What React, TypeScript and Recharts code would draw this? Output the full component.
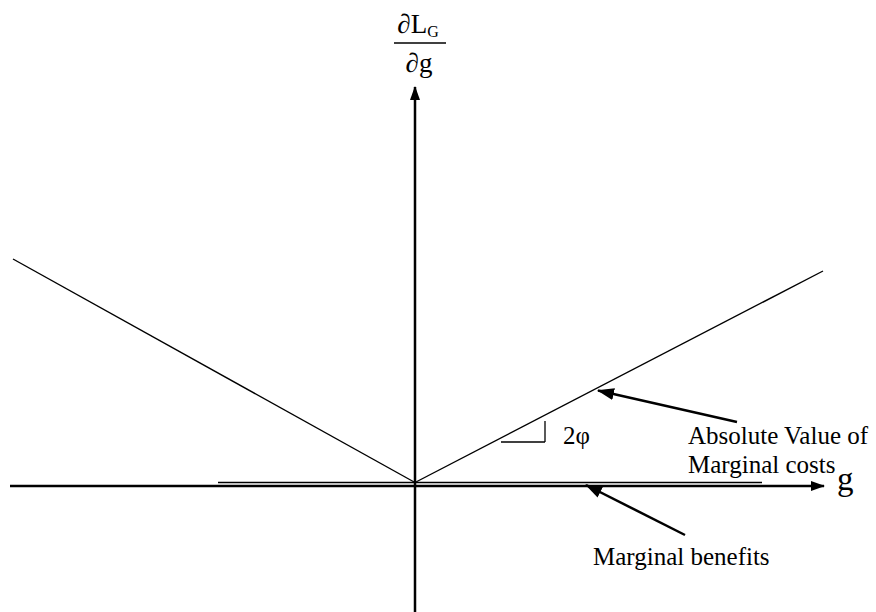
import { LineChart, XAxis, YAxis, ReferenceDot, ReferenceLine } from 'recharts';

// coordinates are in "diagram units": origin where the two cost lines meet
const costsLeft = [
  { x: -402, y: 223.5 },
  { x: 0, y: 0 },
];
const costsRight = [
  { x: 0, y: 0 },
  { x: 408, y: 211.5 },
];
const benefits = [
  { x: -197, y: 0 },
  { x: 347, y: 0 },
];
const gAxis = [
  { x: -405, y: -3.5 },
  { x: 409, y: -3.5 },
];
const dAxis = [
  { x: 0, y: -130 },
  { x: 0, y: 395.5 },
];
const costsPointer = [
  { x: 322, y: 60.5 },
  { x: 183, y: 92 },
];
const benefitsPointer = [
  { x: 270, y: -52.5 },
  { x: 171, y: -2.5 },
];
const slopeMark = [
  { x: 86, y: 40.5 },
  { x: 130, y: 40.5 },
  { x: 130, y: 61.5 },
];

const labels = [
  { x: 148, y: 38.5, text: '2φ', size: 25 },
  { x: 273, y: 38.5, text: 'Absolute Value of', size: 25 },
  { x: 273, y: 9.5, text: 'Marginal costs', size: 25 },
  { x: 178, y: -82.5, text: 'Marginal benefits', size: 25 },
  { x: 422, y: -7.5, text: 'g', size: 33 },
];

const X_DOMAIN = [-415, 461];
const Y_DOMAIN = [-129.5, 482.5];
const FONT = '"Liberation Serif", "Times New Roman", serif';

type Pt = { x: number; y: number };

// one ReferenceLine per pair of consecutive points
function path(points: Pt[], key: string, width: number, marker?: string) {
  return points.slice(1).map((p, i) => (
    <ReferenceLine
      key={`${key}-${i}`}
      segment={[points[i], p]}
      stroke="#000"
      strokeWidth={width}
      ifOverflow="visible"
      markerEnd={marker && i === points.length - 2 ? `url(#${marker})` : undefined}
    />
  ));
}

function Fraction({ cx, cy }: any) {
  return (
    <g fill="#000" style={{ fontFamily: FONT }}>
      <text x={cx - 2} y={cy - 10} textAnchor="middle" fontSize={27}>
        ∂L<tspan fontSize={16} dy={4}>G</tspan>
      </text>
      <line x1={cx - 26} x2={cx + 26} y1={cy} y2={cy} stroke="#000" strokeWidth={1.3} />
      <text x={cx - 1} y={cy + 29} textAnchor="middle" fontSize={27}>
        ∂g
      </text>
    </g>
  );
}

export default function App() {
  return (
    <div style={{ position: 'fixed', left: 0, top: 0, width: 876, height: 612, background: '#fff' }}>
      <LineChart width={876} height={612} margin={{ top: 0, right: 0, bottom: 0, left: 0 }}>
        <defs>
          <marker id="axisHead" viewBox="0 0 14 10" refX="13" refY="5" markerWidth="14" markerHeight="10"
            orient="auto" markerUnits="userSpaceOnUse">
            <path d="M0,0 L14,5 L0,10 z" fill="#000" />
          </marker>
          <marker id="pointerHead" viewBox="0 0 17 12" refX="16" refY="6" markerWidth="17" markerHeight="12"
            orient="auto" markerUnits="userSpaceOnUse">
            <path d="M0,0 L17,6 L0,12 z" fill="#000" />
          </marker>
        </defs>
        <XAxis type="number" dataKey="x" domain={X_DOMAIN} allowDataOverflow hide />
        <YAxis type="number" dataKey="y" domain={Y_DOMAIN} allowDataOverflow hide />

        {path(gAxis, 'gAxis', 2.5, 'axisHead')}
        {path(dAxis, 'dAxis', 2.5, 'axisHead')}
        {path(benefits, 'benefits', 1.5)}
        {path(costsLeft, 'costsLeft', 1.4)}
        {path(costsRight, 'costsRight', 1.4)}
        {path(slopeMark, 'slopeMark', 1.3)}
        {path(costsPointer, 'costsPointer', 2.5, 'pointerHead')}
        {path(benefitsPointer, 'benefitsPointer', 2.5, 'pointerHead')}

        {labels.map((l) => (
          <ReferenceDot
            key={l.text}
            x={l.x}
            y={l.y}
            ifOverflow="visible"
            shape={(p: any) => (
              <text x={p.cx} y={p.cy} fontSize={l.size} fill="#000" style={{ fontFamily: FONT }}>
                {l.text}
              </text>
            )}
          />
        ))}
        <ReferenceDot x={5} y={439.5} ifOverflow="visible" shape={(p: any) => <Fraction {...p} />} />
      </LineChart>
    </div>
  );
}
